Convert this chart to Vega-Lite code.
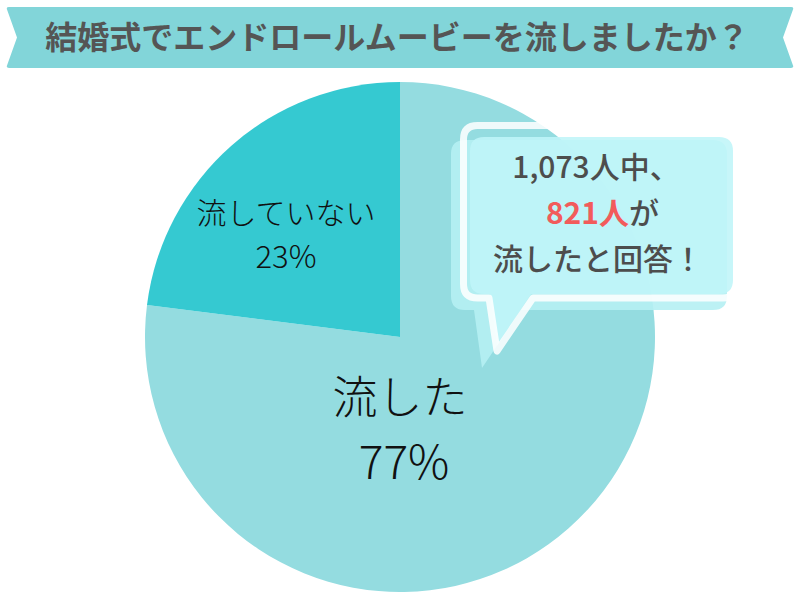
{
  "$schema": "https://vega.github.io/schema/vega-lite/v6.json",
  "width": 800,
  "height": 600,
  "autosize": {"type": "none"},
  "padding": 0,
  "background": "white",
  "config": {"view": {"stroke": null}, "font": "Noto Sans CJK JP"},
  "datasets": {
    "answers": [
      {"answer": "流した", "share": 0.77, "rank": 1},
      {"answer": "流していない", "share": 0.23, "rank": 2}
    ]
  },
  "layer": [
    {
      "data": {"name": "answers"},
      "mark": {"type": "arc", "radius": 255},
      "encoding": {
        "theta": {"field": "share", "type": "quantitative", "stack": true},
        "order": {"field": "rank", "type": "quantitative"},
        "color": {"field": "answer", "type": "nominal", "scale": {"domain": ["流した", "流していない"], "range": ["#94dce0", "#35c9d1"]}, "legend": null},
        "x": {"datum": 400, "type": "quantitative", "scale": {"domain": [0, 800], "nice": false, "zero": false}, "axis": null},
        "y": {"datum": 337, "type": "quantitative", "scale": {"domain": [0, 600], "nice": false, "zero": false, "reverse": true}, "axis": null}
      }
    },
    {
      "data": {"values": [{"shape": "banner"}]},
      "mark": {"type": "point", "filled": true, "opacity": 1, "size": 40000, "color": "#82d5d9", "shape": "M -3.91 -0.305 L 3.91 -0.305 Q 3.94 -0.305 3.93 -0.28 L 3.83 0 L 3.93 0.28 Q 3.94 0.305 3.91 0.305 L -3.91 0.305 Q -3.94 0.305 -3.93 0.28 L -3.83 0 L -3.93 -0.28 Q -3.94 -0.305 -3.91 -0.305 Z"},
      "encoding": {
        "x": {"datum": 400, "type": "quantitative"},
        "y": {"datum": 37.5, "type": "quantitative"}
      }
    },
    {
      "data": {"values": [{"t": "結婚式でエンドロールムービーを流しましたか？"}]},
      "mark": {"type": "text", "fontSize": 32, "fontWeight": "bold", "color": "#555555", "align": "center", "baseline": "middle"},
      "encoding": {
        "text": {"field": "t"},
        "x": {"datum": 397, "type": "quantitative"},
        "y": {"datum": 39, "type": "quantitative"}
      }
    },
    {
      "data": {"values": [{"shape": "shadow"}]},
      "mark": {"type": "point", "filled": true, "opacity": 0.9, "size": 40000, "color": "#b5eff3", "shape": "M -1.35 -1.00 L 1.13 -1.00 Q 1.27 -1.00 1.27 -0.86 L 1.27 0.56 Q 1.27 0.70 1.13 0.70 L -0.79 0.70 L -1.18 1.28 L -1.26 0.70 L -1.35 0.70 Q -1.49 0.70 -1.49 0.56 L -1.49 -0.86 Q -1.49 -1.00 -1.35 -1.00 Z"},
      "encoding": {
        "x": {"datum": 600, "type": "quantitative"},
        "y": {"datum": 240, "type": "quantitative"}
      }
    },
    {
      "data": {"values": [{"shape": "fill"}]},
      "mark": {"type": "point", "filled": true, "opacity": 0.88, "size": 40000, "color": "#bff5f8", "shape": "M -1.16 -1.03 L 1.19 -1.03 Q 1.33 -1.03 1.33 -0.89 L 1.33 0.40 Q 1.33 0.54 1.19 0.54 L -0.69 0.54 L -1.03 1.06 L -1.10 0.54 L -1.16 0.54 Q -1.30 0.54 -1.30 0.40 L -1.30 -0.89 Q -1.30 -1.03 -1.16 -1.03 Z"},
      "encoding": {
        "x": {"datum": 600, "type": "quantitative"},
        "y": {"datum": 240, "type": "quantitative"}
      }
    },
    {
      "data": {"values": [{"shape": "outline"}]},
      "mark": {"type": "point", "filled": false, "opacity": 1, "size": 40000, "fill": null, "stroke": "#ffffff", "strokeOpacity": 0.85, "strokeWidth": 7, "strokeJoin": "round", "shape": "M -1.225 -1.145 L 1.23 -1.145 Q 1.37 -1.145 1.37 -1.005 L 1.37 0.44 Q 1.37 0.58 1.23 0.58 L -0.67 0.58 L -1.03 1.11 L -1.11 0.58 L -1.225 0.58 Q -1.365 0.58 -1.365 0.44 L -1.365 -1.005 Q -1.365 -1.145 -1.225 -1.145 Z"},
      "encoding": {
        "x": {"datum": 600, "type": "quantitative"},
        "y": {"datum": 240, "type": "quantitative"}
      }
    },
    {
      "data": {"values": [{"t": "1,073人中、"}]},
      "mark": {"type": "text", "fontSize": 30, "fontWeight": 500, "color": "#4d4d4d", "align": "center", "baseline": "middle"},
      "encoding": {
        "text": {"field": "t"},
        "x": {"datum": 596, "type": "quantitative"},
        "y": {"datum": 169, "type": "quantitative"}
      }
    },
    {
      "data": {"values": [{"t": "821人"}]},
      "mark": {"type": "text", "fontSize": 30, "fontWeight": "bold", "color": "#f25b5b", "align": "right", "baseline": "middle"},
      "encoding": {
        "text": {"field": "t"},
        "x": {"datum": 629, "type": "quantitative"},
        "y": {"datum": 215, "type": "quantitative"}
      }
    },
    {
      "data": {"values": [{"t": "が"}]},
      "mark": {"type": "text", "fontSize": 30, "fontWeight": 500, "color": "#4d4d4d", "align": "left", "baseline": "middle"},
      "encoding": {
        "text": {"field": "t"},
        "x": {"datum": 629, "type": "quantitative"},
        "y": {"datum": 215, "type": "quantitative"}
      }
    },
    {
      "data": {"values": [{"t": "流したと回答！"}]},
      "mark": {"type": "text", "fontSize": 30, "fontWeight": 500, "color": "#4d4d4d", "align": "center", "baseline": "middle"},
      "encoding": {
        "text": {"field": "t"},
        "x": {"datum": 598, "type": "quantitative"},
        "y": {"datum": 261, "type": "quantitative"}
      }
    },
    {
      "data": {"name": "answers"},
      "transform": [{"filter": "datum.answer === '流していない'"}],
      "layer": [
        {
          "mark": {"type": "text", "fontSize": 30, "fontWeight": 300, "color": "#111111", "align": "center", "baseline": "middle"},
          "encoding": {
            "text": {"field": "answer"},
            "x": {"datum": 286, "type": "quantitative"},
            "y": {"datum": 215, "type": "quantitative"}
          }
        },
        {
          "mark": {"type": "text", "fontSize": 31, "fontWeight": 300, "color": "#111111", "align": "center", "baseline": "middle"},
          "encoding": {
            "text": {"field": "share", "format": ".0%"},
            "x": {"datum": 286, "type": "quantitative"},
            "y": {"datum": 259, "type": "quantitative"}
          }
        }
      ]
    },
    {
      "data": {"name": "answers"},
      "transform": [{"filter": "datum.answer === '流した'"}],
      "layer": [
        {
          "mark": {"type": "text", "fontSize": 45, "fontWeight": 300, "color": "#111111", "align": "center", "baseline": "middle"},
          "encoding": {
            "text": {"field": "answer"},
            "x": {"datum": 400, "type": "quantitative"},
            "y": {"datum": 400, "type": "quantitative"}
          }
        },
        {
          "mark": {"type": "text", "fontSize": 46, "fontWeight": 300, "color": "#111111", "align": "center", "baseline": "middle"},
          "encoding": {
            "text": {"field": "share", "format": ".0%"},
            "x": {"datum": 404, "type": "quantitative"},
            "y": {"datum": 465, "type": "quantitative"}
          }
        }
      ]
    }
  ]
}
